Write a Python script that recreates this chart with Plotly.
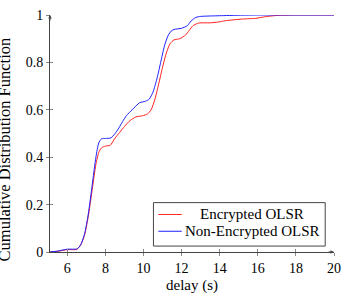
import plotly.graph_objects as go

# Encrypted OLSR
enc_x = [5.09, 5.5, 6.0, 6.5, 6.7, 6.9, 7.1, 7.3, 7.5, 7.65, 7.8, 8.0, 8.25, 8.5, 8.75, 9.0, 9.3, 9.6,
         9.95, 10.2, 10.4, 10.6, 10.8, 11.0, 11.2, 11.4, 11.6, 11.9, 12.2, 12.4, 12.6, 12.9, 13.5,
         13.9, 14.3, 15.2, 15.9, 16.4, 17.0, 18.0, 20.0]
enc_y = [0.0, 0.003, 0.01, 0.011, 0.03, 0.07, 0.15, 0.26, 0.37, 0.42, 0.44, 0.447, 0.45, 0.48, 0.505,
         0.53, 0.555, 0.57, 0.575, 0.582, 0.6, 0.645, 0.71, 0.78, 0.84, 0.88, 0.895, 0.9, 0.915,
         0.935, 0.955, 0.966, 0.967, 0.97, 0.976, 0.983, 0.986, 0.993, 0.998, 1.0, 1.0]

# Non-Encrypted OLSR
non_x = [5.09, 5.5, 6.0, 6.5, 6.7, 6.9, 7.1, 7.3, 7.5, 7.65, 7.8, 8.0, 8.3, 8.6, 8.9, 9.1, 9.4, 9.8,
         10.1, 10.3, 10.5, 10.7, 10.9, 11.1, 11.3, 11.45, 11.6, 12.0, 12.3, 12.5, 12.75, 13.0, 14.0,
         15.0, 16.0, 17.0, 20.0]
non_y = [0.0, 0.004, 0.012, 0.013, 0.03, 0.075, 0.16, 0.28, 0.40, 0.46, 0.478, 0.479, 0.482, 0.51,
         0.55, 0.575, 0.6, 0.63, 0.636, 0.645, 0.675, 0.73, 0.8, 0.87, 0.915, 0.932, 0.939, 0.944,
         0.955, 0.975, 0.99, 0.994, 0.997, 0.999, 1.0, 1.0, 1.0]

x_ticks = [6, 8, 10, 12, 14, 16, 18, 20]
y_ticks = [0, 0.2, 0.4, 0.6, 0.8, 1]
y_tick_text = ["0", "0.2", "0.4", "0.6", "0.8", "1"]
series_names = ["Encrypted OLSR", "Non-Encrypted OLSR"]
series_colors = ["#ff2020", "#2020ff"]

W, H = 349, 293
L, R, T, B = 50, 8, 12, 41
PW, PH = W - L - R, H - T - B

def px(x):
    return (x - L) / PW

def py(y):
    return (H - B - y) / PH

SERIF = "Liberation Serif, Times New Roman, serif"

fig = go.Figure()
for xs, ys, name, col in [(enc_x, enc_y, series_names[0], series_colors[0]),
                          (non_x, non_y, series_names[1], series_colors[1])]:
    fig.add_trace(go.Scatter(x=xs, y=ys, mode="lines", name=name,
                             line=dict(color=col, width=1, shape="spline", smoothing=0.6),
                             showlegend=False))

axis_common = dict(showgrid=False, zeroline=False, showline=True, linecolor="#444", linewidth=1,
                   tickcolor="#888", ticklen=3, tickwidth=1,
                   tickfont=dict(family=SERIF, size=14, color="black"))

fig.update_layout(
    width=W, height=H,
    margin=dict(l=L, r=R, t=T, b=B),
    paper_bgcolor="white", plot_bgcolor="white",
    xaxis=dict(range=[5.09, 20], tickvals=x_ticks, ticktext=[str(v) for v in x_ticks],
               ticks="outside", **axis_common),
    yaxis=dict(range=[0, 1], tickvals=y_ticks, ticktext=y_tick_text, ticks="outside", **axis_common),
    xaxis2=dict(range=[5.09, 20], tickvals=x_ticks, showticklabels=False, ticks="inside",
                overlaying="x", showgrid=False, zeroline=False, showline=False,
                tickcolor="#888", ticklen=3, tickwidth=1),
    yaxis2=dict(range=[0, 1], tickvals=y_ticks, showticklabels=False, ticks="inside",
                overlaying="y", showgrid=False, zeroline=False, showline=False,
                tickcolor="#888", ticklen=3, tickwidth=1),
    showlegend=False,
)
# dummy trace to activate overlay axes
fig.add_trace(go.Scatter(x=[None], y=[None], xaxis="x2", yaxis="y2", showlegend=False,
                         hoverinfo="skip"))

shapes = []
annotations = []
# legend box
shapes.append(dict(type="rect", xref="paper", yref="paper", x0=px(156), x1=px(332),
                   y0=py(246), y1=py(202), line=dict(color="#444", width=1),
                   fillcolor="white", layer="above"))
for i, (name, col, ly) in enumerate(zip(series_names, series_colors, [214, 231])):
    shapes.append(dict(type="line", xref="paper", yref="paper", x0=px(161), x1=px(185),
                       y0=py(ly), y1=py(ly), line=dict(color=col, width=1), layer="above"))
    annotations.append(dict(xref="paper", yref="paper", x=px(257), y=py(ly), text=name,
                            showarrow=False, xanchor="center", yanchor="middle",
                            font=dict(family=SERIF, size=15, color="black")))

# axis arrows
annotations.append(dict(xref="x", yref="y", x=20, y=0, ax=-7, ay=0, axref="pixel", ayref="pixel",
                        showarrow=True, arrowhead=2, arrowsize=0.7, arrowwidth=1,
                        arrowcolor="#444", text=""))
annotations.append(dict(xref="x", yref="y", x=5.09, y=1, ax=0, ay=7,
                        showarrow=True, arrowhead=2, arrowsize=0.7, arrowwidth=1,
                        arrowcolor="#444", text=""))

# axis titles
annotations.append(dict(xref="paper", yref="paper", x=px(196), y=py(286), text="delay (s)",
                        showarrow=False, xanchor="center", yanchor="middle",
                        font=dict(family=SERIF, size=15, color="black")))
annotations.append(dict(xref="paper", yref="paper", x=px(3), y=py(148),
                        text="Cumulative Distribution Function", textangle=-90,
                        showarrow=False, xanchor="center", yanchor="middle",
                        font=dict(family=SERIF, size=16.5, color="black")))

fig.update_layout(shapes=shapes, annotations=annotations)
fig.write_html("out.html")
